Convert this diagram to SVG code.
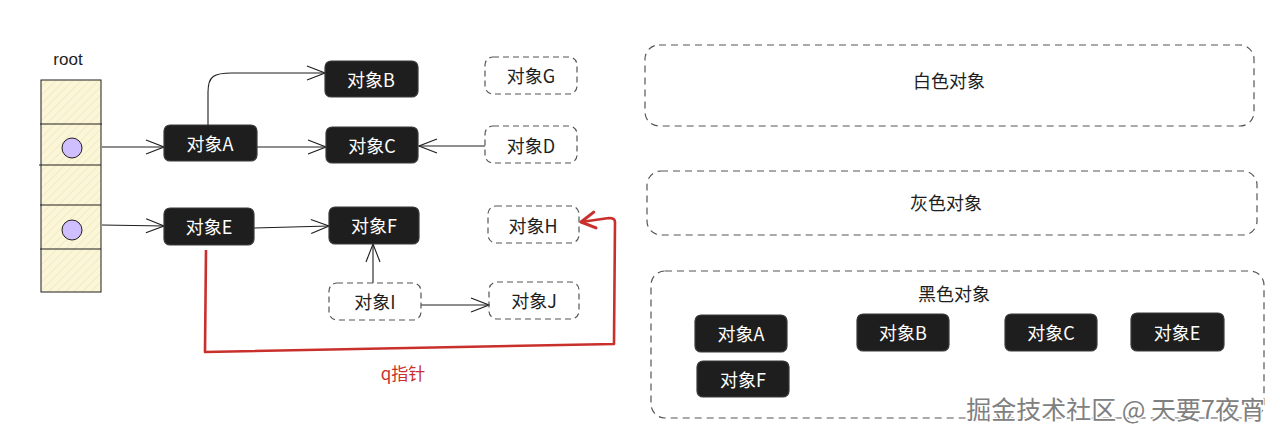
<svg xmlns="http://www.w3.org/2000/svg" width="1280" height="439" viewBox="0 0 1280 439">
  <style>
    .t { font-family: "Noto Sans CJK SC", "Liberation Sans", sans-serif; font-size: 18px; text-anchor: middle; dominant-baseline: central; }
    .w { fill: #ffffff; }
    .d { fill: #1e1e1e; }
    .blk { fill: #1e1e1e; stroke: #3a3a3a; stroke-width: 1.2; }
    .dash { fill: none; stroke: #555555; stroke-width: 1.2; stroke-dasharray: 6 4; }
    .grp { fill: none; stroke: #555555; stroke-width: 1.2; stroke-dasharray: 7 5; }
    .ln { fill: none; stroke: #1e1e1e; stroke-width: 1.1; marker-end: url(#arr); }
    .red { fill: none; stroke: #c9302c; stroke-width: 2.6; stroke-linejoin: round; marker-end: url(#arrR); }
    .cell { stroke: #1e1e1e; stroke-width: 1; }
  </style>
  <defs>
    <marker id="arr" markerUnits="userSpaceOnUse" markerWidth="20" markerHeight="16" viewBox="0 0 20 16" refX="19" refY="8" orient="auto">
      <path d="M1,1 L19,8 L1,15" fill="none" stroke="#1e1e1e" stroke-width="1.1"/>
    </marker>
    <marker id="arrR" markerUnits="userSpaceOnUse" markerWidth="18" markerHeight="20" viewBox="0 0 18 20" refX="16" refY="10" orient="auto">
      <path d="M2,2 L16,10 L2,18" fill="none" stroke="#c9302c" stroke-width="3" stroke-linecap="round" stroke-linejoin="round"/>
    </marker>
    <pattern id="hatch" patternUnits="userSpaceOnUse" width="6" height="6" patternTransform="rotate(45)">
      <rect width="6" height="6" fill="#fcf6d8"/>
      <line x1="0" y1="0" x2="0" y2="6" stroke="#ece2b4" stroke-width="1.2"/>
    </pattern>
  </defs>
  <rect width="1280" height="439" fill="#ffffff"/>

  <g id="root">
    <text class="t d" x="68" y="59" style="font-family:'Liberation Sans',sans-serif;font-size:17px">root</text>
    <rect x="41" y="80" width="60" height="212" fill="url(#hatch)" stroke="#1e1e1e" stroke-width="1"/>
    <line class="cell" x1="40" y1="124" x2="102" y2="124"/>
    <line class="cell" x1="39" y1="165" x2="101" y2="165"/>
    <line class="cell" x1="40" y1="205" x2="101" y2="205"/>
    <line class="cell" x1="40" y1="249" x2="101" y2="249"/>
    <circle cx="72" cy="148" r="10" fill="#d0bfff" stroke="#1e1e1e" stroke-width="1"/>
    <circle cx="72" cy="230" r="10" fill="#d0bfff" stroke="#1e1e1e" stroke-width="1"/>
  </g>

  <g id="connectors">
    <path class="ln" d="M102,147 L164,147"/>
    <path class="ln" d="M102,225 L164,226"/>
    <path class="ln" d="M257,147 L326,147"/>
    <path class="ln" d="M208,125 L208,92 C208,76 214,73 232,73 L325,73"/>
    <path class="ln" d="M485,146 L419,146"/>
    <path class="ln" d="M254,228 L329,226"/>
    <path class="ln" d="M373,283 L373,244"/>
    <path class="ln" d="M421,305 L489,305"/>
    <path class="red" d="M206,250 L205,352 L614,344 L615,222 Q615,218 609,218 L581,222"/>
    <text class="t" x="403" y="372" style="fill:#c9302c;font-size:17px">q指针</text>
  </g>

  <g id="nodeA"><rect class="blk" x="164" y="125" width="93" height="36" rx="6"/><text class="t w" x="210" y="143">对象A</text></g>
  <g id="nodeB"><rect class="blk" x="325" y="61" width="93" height="36" rx="6"/><text class="t w" x="371" y="79">对象B</text></g>
  <g id="nodeC"><rect class="blk" x="326" y="127" width="92" height="36" rx="6"/><text class="t w" x="372" y="145">对象C</text></g>
  <g id="nodeE"><rect class="blk" x="164" y="208" width="90" height="37" rx="6"/><text class="t w" x="209" y="226">对象E</text></g>
  <g id="nodeF"><rect class="blk" x="329" y="207" width="90" height="37" rx="6"/><text class="t w" x="374" y="225">对象F</text></g>

  <g id="nodeG"><rect class="dash" x="485" y="57" width="92" height="37" rx="8"/><text class="t d" x="531" y="75">对象G</text></g>
  <g id="nodeD"><rect class="dash" x="485" y="126" width="92" height="37" rx="8"/><text class="t d" x="531" y="145">对象D</text></g>
  <g id="nodeH"><rect class="dash" x="488" y="206" width="91" height="37" rx="8"/><text class="t d" x="533" y="225">对象H</text></g>
  <g id="nodeI"><rect class="dash" x="329" y="283" width="92" height="37" rx="8"/><text class="t d" x="375" y="301">对象I</text></g>
  <g id="nodeJ"><rect class="dash" x="489" y="282" width="90" height="37" rx="8"/><text class="t d" x="534" y="300">对象J</text></g>

  <g id="whiteGroup"><rect class="grp" x="645" y="45" width="609" height="81" rx="14"/><text class="t d" x="949" y="80" style="font-size:18px">白色对象</text></g>
  <g id="grayGroup"><rect class="grp" x="647" y="171" width="610" height="64" rx="14"/><text class="t d" x="946" y="202" style="font-size:18px">灰色对象</text></g>
  <g id="blackGroup">
    <rect class="grp" x="651" y="271" width="613" height="147" rx="14"/>
    <text class="t d" x="954" y="293" style="font-size:18px">黑色对象</text>
  </g>
  <g id="bA"><rect class="blk" x="695" y="315" width="92" height="37" rx="6"/><text class="t w" x="741" y="333">对象A</text></g>
  <g id="bB"><rect class="blk" x="857" y="314" width="92" height="37" rx="6"/><text class="t w" x="903" y="332">对象B</text></g>
  <g id="bC"><rect class="blk" x="1005" y="314" width="92" height="37" rx="6"/><text class="t w" x="1051" y="332">对象C</text></g>
  <g id="bE"><rect class="blk" x="1131" y="313" width="93" height="38" rx="6"/><text class="t w" x="1177" y="332">对象E</text></g>
  <g id="bF"><rect class="blk" x="697" y="361" width="92" height="36" rx="6"/><text class="t w" x="743" y="379">对象F</text></g>

  <text x="1265" y="408" style="font-family:'Noto Sans CJK SC',sans-serif;font-size:25px;text-anchor:end;dominant-baseline:central;fill:#808080;stroke:#ffffff;stroke-width:2.5;paint-order:stroke">掘金技术社区 @ 天要7夜宵</text>
</svg>
